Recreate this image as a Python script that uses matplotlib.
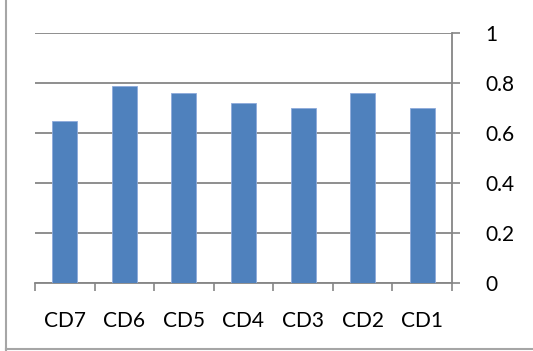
import numpy as np
import matplotlib.pyplot as plt
from matplotlib.lines import Line2D

categories = ["CD7", "CD6", "CD5", "CD4", "CD3", "CD2", "CD1"]
values = [0.65, 0.79, 0.76, 0.72, 0.70, 0.76, 0.70]
y_ticks = [0, 0.2, 0.4, 0.6, 0.8, 1]
y_labels = ["0", "0.2", "0.4", "0.6", "0.8", "1"]

plt.rcParams['font.family'] = ['Lato', 'DejaVu Sans']

W, H = 533, 351
fig = plt.figure(figsize=(W / 100, H / 100), dpi=100)
ax = fig.add_axes([35 / W, 68 / H, 417 / W, 250 / H])

grid_col = "#868686"
x = np.arange(len(categories))
ax.bar(x, values, width=0.42, color="#4F81BD", edgecolor="#8EAADB",
       linewidth=0.6, zorder=3)

ax.set_xlim(-0.5, len(categories) - 0.5)
ax.set_ylim(0, 1)

# value axis sits on the right, gridlines at each major tick
ax.yaxis.tick_right()
ax.set_yticks(y_ticks)
ax.set_yticklabels(y_labels, ha="left")
ax.tick_params(axis="y", direction="out", length=6, width=1.2, color=grid_col,
               pad=18, labelsize=15, labelcolor="black")
for v in y_ticks:
    ax.axhline(v, color=grid_col, linewidth=1.3, zorder=1)

# category labels centred, tick marks between categories
ax.set_xticks(x)
ax.set_xticklabels(categories)
ax.set_xticks(np.arange(-0.5, len(categories)), minor=True)
ax.tick_params(axis="x", which="major", length=0, pad=20, labelsize=15)
ax.tick_params(axis="x", which="minor", direction="out", length=6, width=1.2,
               color=grid_col)

for side in ["left", "top"]:
    ax.spines[side].set_visible(False)
for side in ["right", "bottom"]:
    ax.spines[side].set_color(grid_col)
    ax.spines[side].set_linewidth(1.3)

# chart area border
fig.add_artist(Line2D([6 / W, 6 / W], [0, 1 - 349 / H], transform=fig.transFigure,
                      color="#A6A6A6", linewidth=1.5))
fig.add_artist(Line2D([6 / W, 1], [1 - 349 / H, 1 - 349 / H], transform=fig.transFigure,
                      color="#A6A6A6", linewidth=1.5))
fig.add_artist(Line2D([6 / W, 6 / W], [1 - 349 / H, 1], transform=fig.transFigure,
                      color="#A6A6A6", linewidth=1.5))

fig.savefig("out.png", dpi=100)
